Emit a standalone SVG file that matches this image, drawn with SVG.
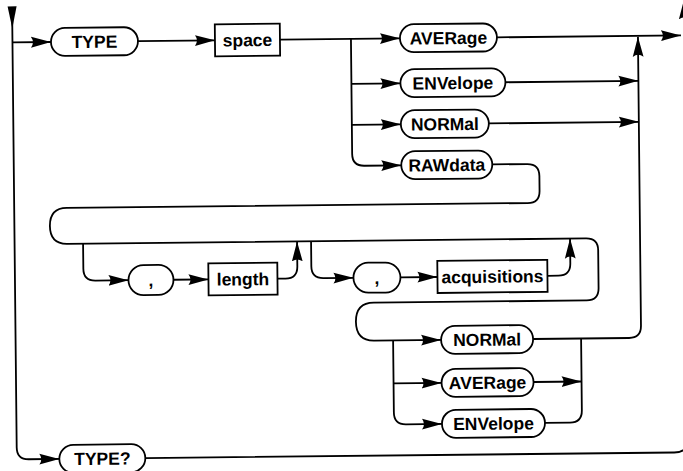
<svg xmlns="http://www.w3.org/2000/svg" width="683" height="471" viewBox="0 0 683 471">
<defs>
<marker id="ah" markerUnits="userSpaceOnUse" markerWidth="21" markerHeight="12" refX="20" refY="6" orient="auto">
<path d="M0,0.6 L20,6 L0,11.4 Q4,6 0,0.6 Z" fill="#000"/>
</marker>
<style>
.c{fill:none;stroke:#000;stroke-width:1.8}
.n{fill:#fff;stroke:#000;stroke-width:1.8}
.t{font-family:"Liberation Sans",Arial,sans-serif;font-size:17.5px;font-weight:bold;text-anchor:middle;fill:#000}
</style>
</defs>
<rect width="683" height="471" fill="#fff"/>
<g transform="rotate(-0.6 340 235)">
<g id="connectors">
<path class="c" d="M14.5,5 V444 Q14.5,456 26.5,456 H57" marker-end="url(#ah)"/>
<polygon points="10,3 19,3 14.5,25" fill="#000"/>
<path class="c" d="M14.5,39 H53" marker-end="url(#ah)"/>
<path class="c" d="M140,39 H217" marker-end="url(#ah)"/>
<path class="c" d="M282,39 H402" marker-end="url(#ah)"/>
<path class="c" d="M499,39 H683" marker-end="url(#ah)"/>
<path class="c" d="M353,39 V154 Q353,166 365,166 H402" marker-end="url(#ah)"/>
<path class="c" d="M353,84 H402" marker-end="url(#ah)"/>
<path class="c" d="M353,125 H402" marker-end="url(#ah)"/>
<path class="c" d="M507,84 H640" marker-end="url(#ah)"/>
<path class="c" d="M490,125 H640" marker-end="url(#ah)"/>
<path class="c" d="M493,166 H528 Q540,166 540,178 V193 Q540,205 528,205 H67 Q50,205 50,223 Q50,241 67,241 H586 Q598,241 598,253 V291 Q598,303 586,303 H373 Q355,303 355,322 Q355,341 373,341 H440" marker-end="url(#ah)"/>
<path class="c" d="M83,241 V266 Q83,278 95,278 H128" marker-end="url(#ah)"/>
<path class="c" d="M173,278 H208" marker-end="url(#ah)"/>
<path class="c" d="M277,278 H285 Q297,278 297,266 V241" marker-end="url(#ah)"/>
<path class="c" d="M311,241 V266 Q311,278 323,278 H353" marker-end="url(#ah)"/>
<path class="c" d="M400,278 H437" marker-end="url(#ah)"/>
<path class="c" d="M547,278 H558 Q570,278 570,266 V241" marker-end="url(#ah)"/>
<path class="c" d="M532,341 H628 Q640,341 640,329 V40" marker-end="url(#ah)"/>
<path class="c" d="M392,341 V413 Q392,425 404,425 H440" marker-end="url(#ah)"/>
<path class="c" d="M392,384 H440" marker-end="url(#ah)"/>
<path class="c" d="M532,384 H580" marker-end="url(#ah)"/>
<path class="c" d="M543,425 H568 Q580,425 580,413 V341"/>
<path class="c" d="M143,456 H672 Q686.5,456 686.5,441.5 V3" marker-end="url(#ah)"/>
</g>
<g id="n-type"><rect class="n" x="53" y="25" width="87" height="28" rx="14"/><text class="t" x="96.5" y="45.3">TYPE</text></g>
<g id="n-space"><rect class="n" x="217" y="23" width="65" height="32"/><text class="t" x="249.5" y="45.3">space</text></g>
<g id="n-average"><rect class="n" x="402" y="25" width="97" height="28" rx="14"/><text class="t" x="450.5" y="45.3">AVERage</text></g>
<g id="n-envelope"><rect class="n" x="402" y="70" width="105" height="28" rx="14"/><text class="t" x="454.5" y="90.3">ENVelope</text></g>
<g id="n-normal"><rect class="n" x="402" y="111" width="88" height="28" rx="14"/><text class="t" x="446" y="131.3">NORMal</text></g>
<g id="n-rawdata"><rect class="n" x="402" y="152" width="91" height="28" rx="14"/><text class="t" x="447.5" y="172.3">RAWdata</text></g>
<g id="n-comma1"><rect class="n" x="128" y="263" width="45" height="30" rx="15"/><text class="t" x="150.5" y="284.3">,</text></g>
<g id="n-length"><rect class="n" x="208" y="262" width="69" height="32"/><text class="t" x="242.5" y="284.3">length</text></g>
<g id="n-comma2"><rect class="n" x="353" y="263" width="47" height="30" rx="15"/><text class="t" x="376.5" y="284.3">,</text></g>
<g id="n-acquisitions"><rect class="n" x="437" y="262" width="110" height="32"/><text class="t" x="492" y="284.3">acquisitions</text></g>
<g id="n-normal2"><rect class="n" x="440" y="327" width="92" height="28" rx="14"/><text class="t" x="486" y="347.3">NORMal</text></g>
<g id="n-average2"><rect class="n" x="440" y="370" width="92" height="28" rx="14"/><text class="t" x="486" y="390.3">AVERage</text></g>
<g id="n-envelope2"><rect class="n" x="440" y="411" width="103" height="28" rx="14"/><text class="t" x="491.5" y="431.3">ENVelope</text></g>
<g id="n-typeq"><rect class="n" x="57" y="442" width="86" height="28" rx="14"/><text class="t" x="100" y="462.3">TYPE?</text></g>
</g>
</svg>
